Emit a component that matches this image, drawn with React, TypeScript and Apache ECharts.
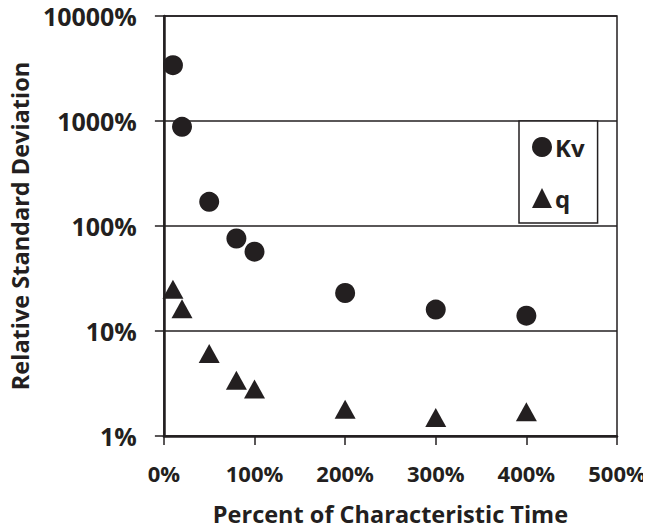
import React, { useEffect, useRef } from "react";
import * as echarts from "echarts";

const timePercent = [10, 20, 50, 80, 100, 200, 300, 400];
const kvRsd = [3400, 880, 170, 76, 57, 23, 16, 14];
const qRsd = [25, 16.3, 6.1, 3.4, 2.8, 1.8, 1.5, 1.7];
const xTitle = "Percent of Characteristic Time";
const yTitle = "Relative Standard Deviation";

const FONT = "'Open Sans', sans-serif";
const INK = "#231f20";

export default function App() {
  const ref = useRef<HTMLDivElement>(null);
  useEffect(() => {
    if (!ref.current) return;
    const chart = echarts.init(ref.current, undefined, { renderer: "svg" });
    chart.setOption({
      animation: false,
      backgroundColor: "#ffffff",
      textStyle: { fontFamily: FONT },
      grid: {
        left: 163,
        right: 34,
        top: 16,
        bottom: 95,
        show: true,
        borderColor: INK,
        borderWidth: 1.5,
        backgroundColor: "transparent",
      },
      legend: {
        orient: "vertical",
        left: 519,
        top: 121,
        padding: [14, 13, 13, 13],
        itemGap: 27,
        itemWidth: 20,
        itemHeight: 20,
        backgroundColor: "#ffffff",
        borderColor: INK,
        borderWidth: 1.5,
        textStyle: {
          fontFamily: FONT,
          fontWeight: "bold",
          fontSize: 24,
          lineHeight: 24,
          color: INK,
          padding: [0, 0, 0, -2],
        },
        data: [
          { name: "Kv", icon: "circle" },
          { name: "q", icon: "triangle" },
        ],
      },
      xAxis: {
        type: "value",
        min: 0,
        max: 500,
        interval: 100,
        name: xTitle,
        nameLocation: "middle",
        nameGap: 66,
        nameTextStyle: {
          fontFamily: FONT,
          fontWeight: "bold",
          fontSize: 23.5,
          color: INK,
        },
        axisLine: { show: true, lineStyle: { color: INK, width: 2.5 } },
        axisTick: { show: true, length: 9, lineStyle: { color: INK, width: 1.5 } },
        axisLabel: {
          formatter: (v: number) => `${v}%`,
          fontFamily: FONT,
          fontWeight: "bold",
          fontSize: 22,
          color: INK,
          margin: 26,
        },
        splitLine: { show: false },
      },
      yAxis: {
        type: "log",
        logBase: 10,
        min: 1,
        max: 10000,
        name: yTitle,
        nameLocation: "middle",
        nameGap: 130,
        nameRotate: 90,
        nameTextStyle: {
          fontFamily: FONT,
          fontWeight: "bold",
          fontSize: 23.5,
          color: INK,
        },
        axisLine: { show: true, lineStyle: { color: INK, width: 2.5 } },
        axisTick: { show: true, length: 9, lineStyle: { color: INK, width: 1.5 } },
        minorTick: { show: false },
        axisLabel: {
          formatter: (v: number) => `${v}%`,
          fontFamily: FONT,
          fontWeight: "bold",
          fontSize: 25,
          color: INK,
          margin: 27,
        },
        splitLine: { show: true, lineStyle: { color: INK, width: 1.5 } },
      },
      series: [
        {
          name: "Kv",
          type: "scatter",
          symbol: "circle",
          symbolSize: 20,
          itemStyle: { color: INK, opacity: 1 },
          data: timePercent.map((x, i) => [x, kvRsd[i]]),
        },
        {
          name: "q",
          type: "scatter",
          symbol: "triangle",
          symbolSize: [21, 19],
          itemStyle: { color: INK, opacity: 1 },
          data: timePercent.map((x, i) => [x, qRsd[i]]),
        },
      ],
    });
    return () => chart.dispose();
  }, []);
  return <div ref={ref} style={{ width: 651, height: 531, marginLeft: -8, marginTop: -8 }} />;
}
